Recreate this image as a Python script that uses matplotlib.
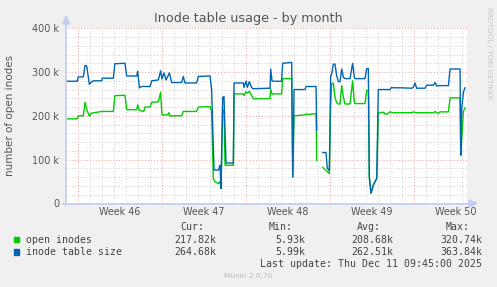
import numpy as np
import matplotlib.pyplot as plt
from matplotlib.lines import Line2D
from matplotlib.patches import Polygon, Rectangle
from matplotlib.transforms import Affine2D

nan = np.nan

# days counted from the start of week 46, values in thousands
size_days = [-0.97, -0.03, 0.05, 0.47, 0.61, 0.75, 0.97, 1.1, 1.3, 2.0, 2.05, 2.97, 3.1, 3.94, 4.08, 4.92,
             5.0, 5.14, 5.33, 6.03, 6.17, 6.72, 6.91, 7.02, 7.19, 7.36, 7.64, 7.83, 8.66, 8.80, 8.94, 9.91,
             10.05, 11.03, 11.16, 11.36, 11.72, 11.86, 11.94, 12.08, 12.19, 12.36, 12.97, 13.03, 13.81,
             13.86, 14.03, 14.14, 14.30, 14.50, 14.64, 16.03, 16.08, 16.19, 16.30, 16.99, 17.08, 17.83,
             17.92, 18.03, 18.94, 19.03, 19.86, 19.92, 20.2, 20.42, 20.69, 20.80, 20.97, 21.08, 21.16,
             21.30, 21.44, 21.58, 21.72, 21.86, 22.00, 22.14, 22.28, 22.69, 22.91, 23.05, 23.11, 23.94,
             24.08, 24.22, 24.30, 24.44, 24.64, 24.92, 25.05, 26.03, 26.16, 26.30, 27.0, 27.83, 27.97,
             28.11, 28.25, 28.94, 29.08, 29.64, 29.78, 29.92, 30.05, 30.89, 31.03, 31.86, 31.92, 32.0,
             32.14, 32.27]
size_k = [279, 279, 289, 289, 315, 314, 272, 276, 280, 280, 286, 286, 319, 320, 291, 291,
          302, 264, 267, 267, 280, 282, 303, 284, 298, 282, 298, 276, 276, 290, 275, 275,
          290, 291, 260, 76, 76, 87, 34, 242, 244, 92, 92, 275, 275,
          265, 279, 265, 278, 264, 262, 263, 307, 280, 279, 279, 320, 322,
          60, 260, 260, 267, 267, 167, nan, 116, 116, 80, 75, 292, 295,
          318, 318, 292, 278, 278, 307, 288, 285, 285, 320, 288, 285, 285,
          308, 308, 60, 23, 42, 57, 260, 260, 265, 264, 264, 263, 265,
          275, 263, 263, 270, 270, 276, 268, 269, 269, 307, 307, 110, 216,
          254, 264]

open_days = [-0.97, -0.03, 0.05, 0.47, 0.61, 0.75, 0.97, 1.1, 1.3, 1.6, 2.0, 2.97, 3.1, 3.94, 4.08, 4.92,
             5.0, 5.14, 5.5, 5.61, 6.03, 6.17, 6.72, 6.91, 7.02, 7.5, 7.6, 7.69, 7.83, 8.66, 8.80, 9.91,
             10.05, 11.03, 11.16, 11.30, 11.44, 11.72, 11.86, 11.94, 12.08, 12.19, 12.28, 12.97, 13.03,
             13.81, 13.86, 14.03, 14.14, 14.30, 14.50, 14.64, 16.03, 16.08, 16.19, 16.99, 17.08, 17.83,
             17.92, 18.03, 18.94, 19.03, 19.2, 19.86, 19.92, 20.2, 20.42, 20.69, 20.97, 21.08, 21.16,
             21.30, 21.44, 21.58, 21.72, 21.86, 22.00, 22.14, 22.28, 22.69, 22.91, 23.05, 23.11, 23.94,
             24.08, 24.22, 24.30, 24.44, 24.64, 24.92, 25.05, 25.5, 25.6, 25.8, 26.0, 26.30, 27.83,
             27.97, 28.25, 29.64, 29.78, 29.92, 30.05, 30.2, 30.89, 31.03, 31.86, 31.92, 32.14, 32.27]
open_k = [193, 193, 200, 200, 231, 215, 199, 205, 207, 208, 210, 210, 246, 247, 214, 214,
          225, 212, 210, 220, 220, 231, 232, 254, 202, 202, 207, 199, 200, 200, 210, 210,
          220, 221, 210, 57, 49, 45, 50, 34, 212, 214, 87, 87, 250,
          250, 246, 255, 252, 256, 246, 239, 239, 261, 250, 250, 285, 285,
          60, 200, 202, 204, 203, 205, 98, nan, 82, 75, 68, 223, 273,
          275, 242, 230, 227, 227, 269, 242, 227, 227, 280, 230, 228, 228,
          258, 258, 60, 23, 42, 57, 207, 208, 204, 204, 209, 207, 207,
          209, 207, 207, 210, 207, 205, 209, 209, 241, 241, 110, 210, 218]

week_labels = ['Week 46', 'Week 47', 'Week 48', 'Week 49', 'Week 50']
week_pos = [3.5, 10.5, 17.5, 24.5, 31.5]
y_ticks = [0, 100, 200, 300, 400]
y_labels = ['0', '100 k', '200 k', '300 k', '400 k']

series_names = ['open inodes', 'inode table size']
series_colors = ['#00CC00', '#0066B3']
cur_vals = ['217.82k', '264.68k']
min_vals = ['5.93k', '5.99k']
avg_vals = ['208.68k', '262.51k']
max_vals = ['320.74k', '363.84k']

W, H = 497, 287
fig = plt.figure(figsize=(W / 100, H / 100), dpi=100, facecolor='#F0F0F0')
pix = Affine2D().scale(1 / W, -1 / H).translate(0, 1) + fig.transFigure

# plot area
ax = fig.add_axes([66 / W, 1 - 203.3 / H, 401 / W, 175 / H])
ax.set_facecolor('white')
ax.set_xlim(-0.975, 32.44)
ax.set_ylim(0, 400)
for s in ax.spines.values():
    s.set_visible(False)

dots = (0, (1, 2))
for d in range(0, 33):
    major = d % 7 == 0
    ax.axvline(d, color='#E8A0A0' if major else '#CCCCCC', lw=0.7, ls=dots, zorder=1)
for v in range(20, 401, 20):
    major = v % 100 == 0
    ax.axhline(v, color='#E8A0A0' if major else '#CCCCCC', lw=0.7, ls=dots, zorder=1)

ax.plot(open_days, open_k, color=series_colors[0], lw=1.0, zorder=3)
ax.plot(size_days, size_k, color=series_colors[1], lw=1.0, zorder=4)

ax.set_yticks(y_ticks)
ax.set_yticklabels(y_labels)
ax.set_xticks(week_pos)
ax.set_xticklabels(week_labels)
ax.tick_params(axis='both', length=0, labelsize=6.9, labelcolor='#555555')
ax.tick_params(axis='y', pad=4.8)
ax.tick_params(axis='x', pad=3)
ax.set_ylabel('number of open inodes', fontsize=7.5, color='#555555')
ax.yaxis.set_label_coords(-0.127, 0.5)

# axes with arrows
acol = '#C4CCF2'
fig.add_artist(Line2D([66, 66], [205, 22], transform=pix, color=acol, lw=1.2))
fig.add_artist(Line2D([63, 471], [203.5, 203.5], transform=pix, color=acol, lw=1.2))
fig.add_artist(Polygon([[62.5, 24], [69.5, 24], [66, 16]], closed=True, transform=pix, color=acol))
fig.add_artist(Polygon([[469, 200], [469, 207], [477, 203.5]], closed=True, transform=pix, color=acol))

# titles
fig.text(248, 18.5, 'Inode table usage - by month', transform=pix, ha='center', va='center',
         fontsize=9.2, color='#555555')
fig.text(489, 53, 'RRDTOOL / TOBI OETIKER', transform=pix, ha='center', va='center',
         rotation=270, fontsize=5.2, color='#C8C8C8')

# legend block
mono = 'DejaVu Sans Mono'
tc = '#444444'
fs = 7.1
for x, h in zip([204, 293, 381, 470], ['Cur:', 'Min:', 'Avg:', 'Max:']):
    fig.text(x, 227.5, h, transform=pix, ha='right', va='center', family=mono, fontsize=fs, color=tc)
for i, name in enumerate(series_names):
    y = 239.7 + i * 12.3
    fig.add_artist(Rectangle((14, y - 2.6), 5.2, 5.2, transform=pix, color=series_colors[i]))
    fig.text(26.3, y, name, transform=pix, ha='left', va='center', family=mono, fontsize=fs, color=tc)
    vals = [cur_vals[i], min_vals[i], avg_vals[i], max_vals[i]]
    for x, v in zip([216.7, 305.3, 393.7, 482.3], vals):
        fig.text(x, y, v, transform=pix, ha='right', va='center', family=mono, fontsize=fs, color=tc)
fig.text(482.3, 263.8, 'Last update: Thu Dec 11 09:45:00 2025', transform=pix, ha='right', va='center',
         family=mono, fontsize=fs, color=tc)
fig.text(248, 276, 'Munin 2.0.76', transform=pix, ha='center', va='center', fontsize=5.3, color='#BBBBBB')

fig.savefig('out.png', dpi=100, facecolor=fig.get_facecolor())
